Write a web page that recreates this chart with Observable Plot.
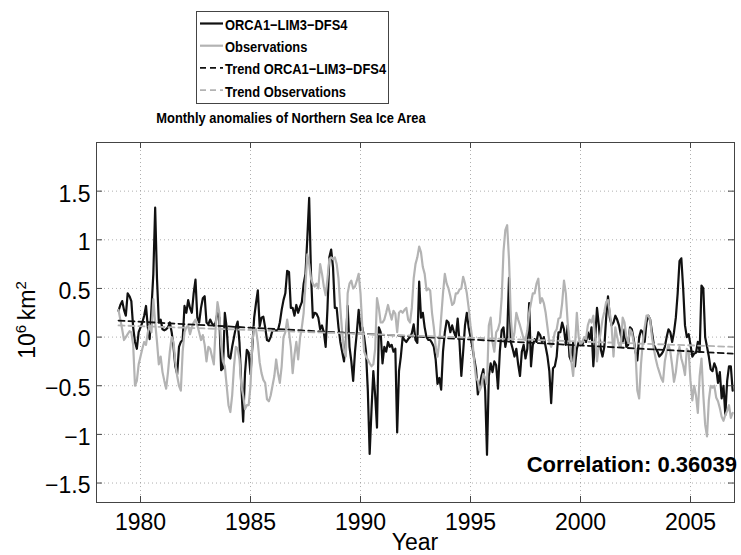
<!DOCTYPE html>
<html><head><meta charset="utf-8">
<script src="https://cdn.jsdelivr.net/npm/d3@7"></script>
<script src="https://cdn.jsdelivr.net/npm/@observablehq/plot@0.6"></script>
<style>
body{margin:0;background:#fff;}
#chart{width:741px;height:555px;font-family:"Liberation Sans",Arial,Helvetica,sans-serif;}
#chart svg{display:block;}
</style></head><body><div id="chart"></div>
<script>
// ---- data (monthly anomalies, 10^6 km^2), Jan 1979 .. Dec 2006 ----
const startYear = 1979;
const orca = [
  0.27, 0.33, 0.37, 0.28, 0.22, 0.45, 0.42, 0.37, 0.10, -0.05, -0.12, 0.05,   // 1979
  0.10, 0.15, 0.22, 0.32, 0.10, -0.02, 0.30, 0.65, 1.33, 0.60, 0.15, 0.18,    // 1980
  0.08, 0.07, 0.08, 0.10, 0.15, 0.05, -0.10, -0.30, -0.38, -0.10, -0.05, -0.03, // 1981
  0.32, 0.25, 0.38, 0.30, 0.25, 0.45, 0.59, 0.20, 0.15, 0.30, 0.40, 0.42,     // 1982
  0.15, 0.13, 0.18, 0.14, 0.12, 0.15, 0.25, 0.20, -0.34, -0.32, 0.25, 0.10,   // 1983
  -0.20, -0.22, -0.10, 0.00, 0.10, 0.16, -0.06, -0.50, -0.87, -0.37, -0.13, -0.16, // 1984
  -0.38, -0.10, 0.20, 0.35, 0.48, 0.11, 0.20, 0.21, 0.10, -0.03, -0.04, 0.00, // 1985
  0.07, 0.07, 0.07, 0.07, 0.15, 0.28, 0.38, 0.45, 0.68, 0.67, 0.30, 0.30,     // 1986
  0.22, 0.33, 0.25, 0.31, 0.36, 0.55, 0.65, 1.02, 1.43, 0.65, 0.20, 0.25,     // 1987
  0.24, 0.20, 0.08, 0.12, 0.05, -0.10, 0.30, 0.82, 0.90, 0.72, 0.30, 0.30,    // 1988
  0.10, -0.05, -0.15, -0.25, -0.05, 0.32, -0.10, -0.25, -0.45, -0.15, 0.05, 0.28, // 1989
  0.07, 0.10, 0.00, -0.15, -0.55, -1.20, -0.75, -0.35, -0.60, -0.93, 0.10, 0.05, // 1990
  -0.27, -0.10, -0.15, -0.05, -0.10, -0.08, -0.15, -0.12, -0.98, -0.35, -0.20, 0.00, // 1991
  -0.03, -0.05, -0.02, 0.00, 0.04, 0.13, -0.03, -0.06, 0.57, 0.20, 0.25, 0.10, // 1992
  0.00, -0.03, -0.03, -0.06, -0.10, -0.23, -0.48, -0.42, -0.54, -0.15, 0.05, 0.17, // 1993
  0.15, 0.05, 0.12, 0.05, 0.00, 0.19, -0.05, -0.40, -0.15, 0.12, 0.25, 0.10,  // 1994
  0.00, -0.10, -0.22, -0.33, -0.59, -0.50, -0.40, -0.33, -0.55, -1.21, -0.40, -0.27, // 1995
  -0.36, -0.25, -0.29, -0.53, -0.15, 0.07, 0.10, -0.10, 0.00, 0.61, -0.05, -0.12, // 1996
  -0.20, -0.12, -0.28, -0.40, -0.15, -0.08, -0.22, -0.12, 0.35, -0.30, -0.08, -0.02, // 1997
  -0.05, 0.05, 0.02, -0.05, 0.00, -0.10, -0.20, -0.35, -0.68, -0.32, -0.30, -0.20, // 1998
  0.05, 0.05, 0.15, 0.08, -0.08, 0.12, -0.20, -0.25, -0.05, -0.30, -0.12, -0.05, // 1999
  -0.05, -0.08, -0.02, -0.05, 0.05, -0.02, 0.10, -0.30, -0.02, 0.30, 0.12, -0.12, // 2000
  -0.20, -0.10, 0.20, 0.42, 0.20, 0.12, 0.15, 0.22, 0.18, 0.12, 0.02, -0.05,  // 2001
  0.08, -0.10, -0.08, 0.10, 0.08, -0.02, -0.15, -0.24, 0.00, 0.07, 0.05, -0.05, // 2002
  0.15, 0.22, 0.18, 0.05, -0.08, -0.12, -0.15, -0.20, -0.18, -0.15, -0.10, 0.00, // 2003
  0.08, 0.05, -0.05, 0.05, 0.20, 0.45, 0.78, 0.81, 0.50, 0.12, 0.00, 0.03,    // 2004
  -0.08, -0.20, -0.17, -0.16, -0.05, -0.15, 0.53, 0.50, 0.00, -0.10, -0.20, -0.33, // 2005
  -0.35, -0.27, -0.32, -0.47, -0.36, -0.63, -0.50, -0.80, -0.45, -0.30, -0.30, -0.55  // 2006
];
const obs = [
  0.28, 0.18, 0.08, -0.03, 0.00, 0.03, 0.06, 0.05, -0.08, -0.50, -0.45, -0.28, // 1979
  -0.20, -0.12, -0.05, -0.08, 0.05, 0.12, 0.05, 0.39, 0.15, -0.05, -0.28, -0.20, // 1980
  -0.36, -0.45, -0.53, -0.36, -0.15, 0.00, -0.05, -0.26, -0.40, -0.50, -0.55, -0.15, // 1981
  0.05, 0.10, 0.12, 0.03, 0.10, 0.15, 0.18, 0.12, 0.05, -0.03, 0.02, -0.08,   // 1982
  -0.25, -0.10, -0.12, -0.20, -0.28, 0.10, 0.36, 0.25, -0.08, -0.25, -0.30, -0.50, // 1983
  -0.70, -0.77, -0.60, -0.30, -0.10, -0.12, -0.23, -0.50, -0.60, -0.74, -0.70, -0.70, // 1984
  -0.50, -0.05, 0.10, 0.08, -0.06, -0.26, -0.37, -0.44, -0.47, -0.64, -0.66, -0.60, // 1985
  -0.50, -0.40, -0.23, -0.37, -0.47, -0.30, 0.00, 0.05, 0.18, 0.05, -0.10, -0.37, // 1986
  -0.18, -0.05, -0.23, -0.01, 0.10, 0.25, 0.55, 0.85, 0.75, 0.60, 0.55, 0.52, // 1987
  0.55, 0.50, 0.75, 0.65, 0.52, 0.43, 0.60, 0.80, 0.82, 0.80, 0.82, 0.75,     // 1988
  0.60, 0.30, 0.05, -0.15, -0.20, 0.45, 0.55, 0.58, 0.50, 0.52, 0.58, 0.65,   // 1989
  0.45, 0.10, -0.15, -0.20, -0.23, -0.27, -0.30, -0.28, -0.12, 0.40, 0.30, 0.15, // 1990
  0.15, 0.18, 0.25, 0.33, 0.25, 0.18, 0.27, 0.24, 0.05, 0.25, 0.27, 0.25,     // 1991
  0.28, 0.30, 0.18, 0.15, 0.30, 0.60, 0.75, 0.82, 0.93, 0.87, 0.72, 0.65,     // 1992
  0.48, 0.50, 0.48, 0.25, 0.10, -0.10, -0.20, -0.05, 0.20, 0.45, 0.65, 0.55,  // 1993
  0.50, 0.42, 0.33, 0.35, 0.45, 0.45, 0.49, 0.50, 0.62, 0.55, 0.45, 0.30,     // 1994
  0.12, -0.02, -0.25, -0.42, -0.45, -0.55, -0.50, -0.38, -0.42, -0.48, 0.12, 0.20, // 1995
  -0.05, -0.15, 0.05, 0.08, 0.15, 0.40, 0.88, 1.10, 1.15, 0.80, 0.20, -0.05, // 1996
  0.05, 0.25, 0.18, 0.12, 0.05, -0.02, -0.03, 0.07, 0.25, 0.35, 0.45, 0.45,   // 1997
  0.55, 0.60, 0.35, 0.40, 0.35, 0.25, 0.10, -0.05, -0.10, -0.05, 0.05, 0.08,  // 1998
  0.19, 0.20, 0.35, 0.58, 0.45, 0.15, -0.05, -0.25, -0.40, -0.10, 0.25, 0.00, // 1999
  -0.08, -0.05, 0.00, -0.02, 0.12, 0.18, 0.15, 0.22, 0.00, -0.25, -0.08, 0.05, // 2000
  0.18, 0.26, 0.36, 0.38, 0.25, 0.10, -0.20, 0.10, 0.00, -0.08, -0.10, 0.20,  // 2001
  0.15, 0.00, -0.05, 0.08, 0.05, -0.05, -0.15, -0.55, -0.63, -0.28, -0.05, 0.10, // 2002
  0.22, 0.22, 0.18, 0.00, -0.12, -0.22, -0.30, -0.36, -0.42, -0.46, -0.25, -0.15, // 2003
  -0.08, -0.15, -0.29, -0.46, -0.36, -0.19, -0.10, -0.22, -0.29, -0.39, -0.12, -0.15, // 2004
  -0.45, -0.65, -0.50, -0.60, -0.78, -0.40, -0.22, -0.60, -0.90, -1.02, -0.65, -0.50, // 2005
  -0.52, -0.50, -0.62, -0.66, -0.73, -0.82, -0.86, -0.80, -0.76, -0.70, -0.83, -0.78  // 2006
];
const trendYears = [1979, 2006.917];
const trendOrca = [0.17, -0.17];
const trendObs = [0.12, -0.10];
const seriesNames = ["ORCA1\u2212LIM3\u2212DFS4", "Observations", "Trend ORCA1\u2212LIM3\u2212DFS4", "Trend Observations"];
const xTicks = [1980, 1985, 1990, 1995, 2000, 2005];
const yTicks = [-1.5, -1, -0.5, 0, 0.5, 1, 1.5];
const titleText = "Monthly anomalies of Northern Sea Ice Area";
const xLabel = "Year";
const correlationText = "Correlation: 0.36039";

// ---- styles / layout ----
const FONT = '"Liberation Sans", Arial, Helvetica, sans-serif';
const BLACK = "#111111", GRAY = "#b3b3b3", FRAME = "#444444";
const seriesStyle = [
  {stroke: BLACK, dash: null, w: 2.2},
  {stroke: GRAY, dash: null, w: 2.2},
  {stroke: BLACK, dash: "6,4", w: 1.8},
  {stroke: GRAY, dash: "6,4", w: 1.8}
];
const W = 741, H = 425;
const mL = 96, mR = 7, mT = 12, mB = 53;
const pw = W - mL - mR, ph = H - mT - mB;

const chart = document.getElementById("chart");

// ---- header: legend + title ----
const head = d3.create("svg").attr("width", W).attr("height", 130)
  .attr("font-family", FONT);
head.append("rect").attr("x", 196.5).attr("y", 11.5).attr("width", 192).attr("height", 92)
  .attr("fill", "white").attr("stroke", FRAME).attr("stroke-width", 1);
seriesNames.forEach((name, i) => {
  const base = 30 + i * 22.2;
  const st = seriesStyle[i];
  head.append("line").attr("x1", 200).attr("x2", 223).attr("y1", base - 6.5).attr("y2", base - 6.5)
    .attr("stroke", st.stroke).attr("stroke-width", st.w).attr("stroke-dasharray", st.dash);
  head.append("text").attr("transform", `translate(225,${base}) scale(0.86,1)`)
    .attr("font-size", 15).attr("font-weight", "bold").attr("fill", "#000").text(name);
});
head.append("text").attr("transform", "translate(291,122.5) scale(0.86,1)")
  .attr("text-anchor", "middle").attr("font-size", 15).attr("font-weight", "bold")
  .attr("fill", "#000").text(titleText);
chart.appendChild(head.node());

// ---- plot ----
const monthly = orca.map((v, i) => ({t: startYear + i / 12, orca: v, obs: obs[i]}));
const trend = trendYears.map((t, i) => ({t, orca: trendOrca[i], obs: trendObs[i]}));
const fmtY = d => (d < 0 ? "\u2212" + Math.abs(d) : String(d));

const hasAxisMarks = typeof Plot.axisX === "function";
const marks = [
  Plot.ruleX(xTicks, {x: d => d, stroke: "#9a9a9a", strokeWidth: 0.8, strokeDasharray: "1,3"}),
  Plot.ruleY(yTicks, {y: d => d, stroke: "#9a9a9a", strokeWidth: 0.8, strokeDasharray: "1,3"}),
  Plot.line(monthly, {x: "t", y: "orca", stroke: BLACK, strokeWidth: 2.2, strokeLinejoin: "round"}),
  Plot.line(monthly, {x: "t", y: "obs", stroke: GRAY, strokeWidth: 2.2, strokeLinejoin: "round"}),
  Plot.line(trend, {x: "t", y: "orca", stroke: BLACK, strokeWidth: 1.8, strokeDasharray: "6,4"}),
  Plot.line(trend, {x: "t", y: "obs", stroke: GRAY, strokeWidth: 1.8, strokeDasharray: "6,4"}),
  Plot.frame({stroke: FRAME, strokeWidth: 1}),
  Plot.tickX(xTicks, {x: d => d, stroke: FRAME, insetTop: ph - 6}),
  Plot.tickX(xTicks, {x: d => d, stroke: FRAME, insetBottom: ph - 6}),
  Plot.tickY(yTicks, {y: d => d, stroke: FRAME, insetRight: pw - 6}),
  Plot.tickY(yTicks, {y: d => d, stroke: FRAME, insetLeft: pw - 6})
];
if (hasAxisMarks) {
  marks.push(Plot.axisX(xTicks, {tickSize: 0, tickPadding: 11, fontSize: 23, label: null, tickFormat: d => String(d)}));
  marks.push(Plot.axisY(yTicks, {tickSize: 0, tickPadding: 6, dy: 3, fontSize: 23, label: null, tickFormat: fmtY}));
}

const svg = Plot.plot({
  width: W, height: H,
  marginLeft: mL, marginRight: mR, marginTop: mT, marginBottom: mB,
  style: {fontFamily: FONT, fontSize: "23px", color: "#000", background: "white", overflow: "visible"},
  x: {domain: [1978, 2007], ticks: xTicks, tickSize: 0, tickPadding: 11, tickFormat: d => String(d), label: null},
  y: {domain: [-1.7, 2], ticks: yTicks, tickSize: 0, tickPadding: 6, tickFormat: fmtY, label: null},
  marks
});

const s = d3.select(svg);
// y-axis label 10^6 km^2
const yl = s.append("text").attr("transform", `translate(35,${mT + ph / 2 - 2}) rotate(-90)`)
  .attr("text-anchor", "middle").attr("font-size", 23).attr("fill", "#000").attr("font-family", FONT);
yl.append("tspan").text("10");
yl.append("tspan").attr("dy", -9).attr("font-size", 15).text("6");
yl.append("tspan").attr("dy", 9).text("\u2009km");
yl.append("tspan").attr("dy", -9).attr("font-size", 15).text("2");
// x-axis label
s.append("text").attr("x", mL + pw / 2).attr("y", 419.5).attr("text-anchor", "middle")
  .attr("font-size", 23).attr("fill", "#000").attr("font-family", FONT).text(xLabel);
// correlation annotation
s.append("text").attr("x", 737).attr("y", 342).attr("text-anchor", "end")
  .attr("font-size", 22).attr("font-weight", "bold").attr("fill", "#000").attr("font-family", FONT)
  .text(correlationText);

chart.appendChild(svg);
</script></body></html>
